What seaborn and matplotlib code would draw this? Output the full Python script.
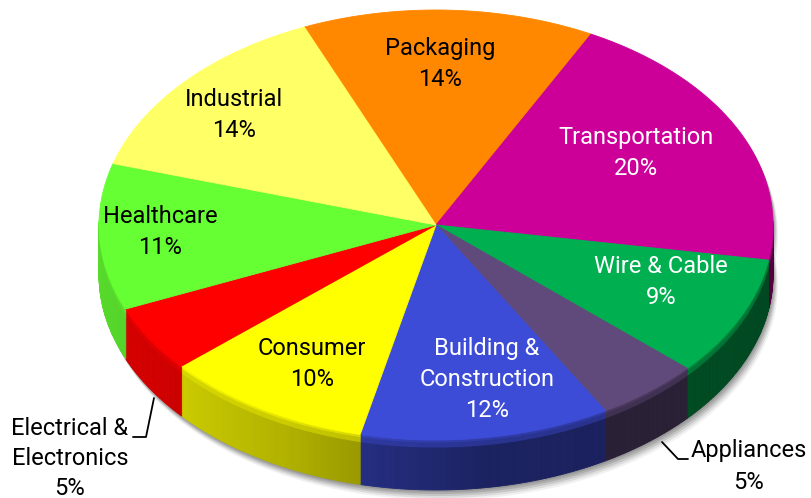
import numpy as np
import matplotlib
matplotlib.use("Agg")
import matplotlib.pyplot as plt
import seaborn as sns
from matplotlib.collections import PolyCollection
from matplotlib.colors import to_rgb

# ---------------- data ----------------
categories = ["Packaging", "Transportation", "Wire & Cable", "Appliances",
              "Building &\nConstruction", "Consumer", "Electrical &\nElectronics",
              "Healthcare", "Industrial"]
shares = [14, 20, 9, 5, 12, 10, 5, 11, 14]
slice_colors = ["#FF8800", "#CC0099", "#00B050", "#604A7B", "#3D4CD6",
                "#FFFF00", "#FF0000", "#66FF33", "#FFFF66"]
text_colors = ["black", "white", "white", "black", "white",
               "black", "black", "black", "black"]

# ---------------- style / layout ----------------
sns.set_theme(style="white")
plt.rcParams['font.family'] = ['Roboto', 'DejaVu Sans']

W, H = 811, 498
fig = plt.figure(figsize=(W / 100, H / 100), dpi=100)
ax = fig.add_axes([0, 0, 1, 1])
ax.set_xlim(0, W)
ax.set_ylim(H, 0)
ax.axis("off")

cx, cy, rx, ry, depth = 436, 225, 337, 215, 50
start = 113.0

vals = np.array(shares, dtype=float)
angles = start - np.concatenate([[0], np.cumsum(vals / vals.sum() * 360.0)])


def pt(theta_deg, dy=0.0, scale=1.0):
    t = np.radians(theta_deg)
    return cx + rx * scale * np.cos(t), cy - ry * scale * np.sin(t) + dy


# ---------------- shadow ----------------
th = np.linspace(0, 360, 400)
for off, a in [(10, 0.10), (8, 0.16), (6, 0.24), (4, 0.32), (2, 0.40)]:
    xs_top, ys_top = pt(th)
    xs_b, ys_b = pt(th, dy=depth)
    poly_t = np.column_stack([xs_top + off * 0.5, ys_top + off])
    poly_b = np.column_stack([xs_b + off * 0.5, ys_b + off])
    ax.add_patch(plt.Polygon(poly_b, closed=True, fc="#7a7a7a", ec="none", alpha=a, zorder=1))
    ax.add_patch(plt.Polygon(poly_t, closed=True, fc="#7a7a7a", ec="none", alpha=a, zorder=1))

# ---------------- side walls ----------------
tk = np.array([0.0, 0.2, 0.35, 0.55, 1.0])
fk = np.array([0.86, 0.82, 0.70, 0.45, 0.40])

side_polys, side_cols = [], []
for i in range(len(vals)):
    a0, a1 = angles[i], angles[i + 1]
    n = max(int((a0 - a1) / 0.5), 2)
    grid = np.linspace(a0, a1, n + 1)
    base = np.array(to_rgb(slice_colors[i]))
    for g0, g1 in zip(grid[:-1], grid[1:]):
        mid = 0.5 * (g0 + g1)
        if np.sin(np.radians(mid)) > 0.02:
            continue
        m = mid % 360.0
        t = np.clip((m - 180.0) / 180.0, 0, 1)
        f = np.interp(t, tk, fk)
        x0, y0 = pt(g0)
        x1, y1 = pt(g1)
        bands = [(0, 3, 0.5 * (1 + f) + 0.05), (3, 8, 0.5 * (1 + f) - 0.05), (8, depth, f)]
        for b0, b1, ff in bands:
            c = np.clip(base * min(ff, 1.0), 0, 1)
            side_polys.append([(x0, y0 + b0), (x1, y1 + b0), (x1, y1 + b1), (x0, y0 + b1)])
            side_cols.append(c)
ax.add_collection(PolyCollection(side_polys, facecolors=side_cols, edgecolors=side_cols,
                                 linewidths=0.6, zorder=2))

# ---------------- top surface ----------------
for i in range(len(vals)):
    a0, a1 = angles[i], angles[i + 1]
    arc = np.linspace(a0, a1, 120)
    xs, ys = pt(arc)
    poly = np.column_stack([np.concatenate([[cx], xs]), np.concatenate([[cy], ys])])
    ax.add_patch(plt.Polygon(poly, closed=True, fc=slice_colors[i], ec=slice_colors[i],
                             lw=0.6, zorder=3))

# ---------------- labels ----------------
pct = [f"{int(v)}%" for v in shares]
fs = 17
inside_pos = {0: (440, 48), 1: (636, 137), 2: (661, 266), 4: (487, 348),
              5: (312, 348), 7: (160, 216), 8: (234, 99)}
for i, (x, y) in inside_pos.items():
    lines = categories[i].split("\n") + [pct[i]]
    for j, s in enumerate(lines):
        ax.text(x, y + 31 * j, s, ha="center", va="center", fontsize=fs,
                color=text_colors[i], zorder=5)

# outside labels with leader lines
lines = categories[6].split("\n") + [pct[6]]
for j, s in enumerate(lines):
    ax.text(70, 428 + 30 * j, s, ha="center", va="center", fontsize=fs, color="black", zorder=5)
ax.plot([133, 146, 154], [437, 437, 398], color="black", lw=1.3, zorder=5)

ax.text(749, 450, categories[3], ha="center", va="center", fontsize=fs, color="black", zorder=5)
ax.text(749, 482, pct[3], ha="center", va="center", fontsize=fs, color="black", zorder=5)
ax.plot([662, 678, 688], [442, 459, 459], color="black", lw=1.3, zorder=5)

fig.savefig("out.png", dpi=100)
